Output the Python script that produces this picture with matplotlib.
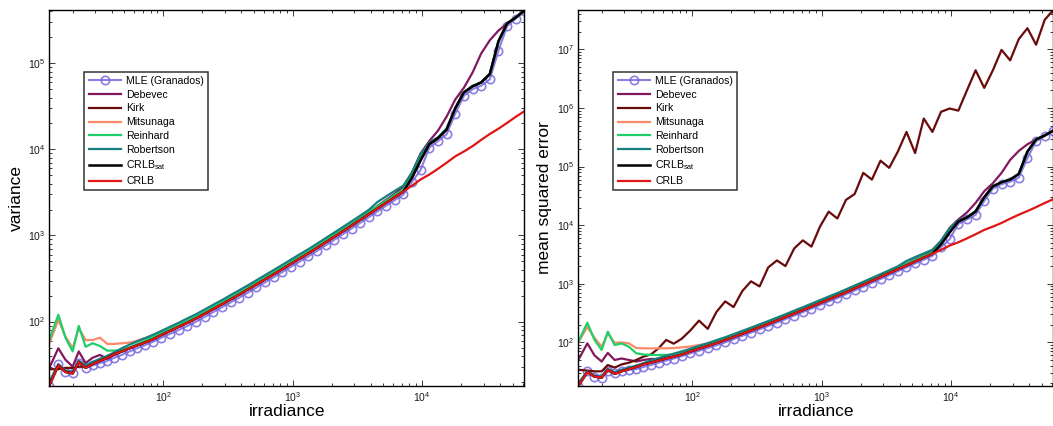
import matplotlib
matplotlib.use("Agg")
import matplotlib.pyplot as plt
from matplotlib.ticker import LogLocator, NullFormatter, FixedLocator

plt.rcParams['font.family'] = ['Liberation Sans', 'DejaVu Sans']
plt.rcParams['mathtext.fontset'] = 'custom'
plt.rcParams['mathtext.rm'] = 'Liberation Sans'
plt.rcParams['mathtext.it'] = 'Liberation Sans:italic'
plt.rcParams['mathtext.bf'] = 'Liberation Sans:bold'

# ---------------- data ----------------
irradiance = [13.2, 15.5, 17.6, 20.0, 22.3, 25.2, 28.5, 32.5, 37, 42, 48, 55, 63, 72, 83,
              97, 113, 132, 154, 180, 209, 244, 285, 332, 387, 452, 526, 614, 716, 835,
              973, 1135, 1324, 1544, 1800, 2099, 2448, 2854, 3329, 3882, 4527, 5279, 6156,
              7179, 8372, 9762, 11384, 13276, 15481, 18053, 21052, 24550, 28628, 33384,
              38930, 45398, 52940, 61660]

labels = ['MLE (Granados)', 'Debevec', 'Kirk', 'Mitsunaga', 'Reinhard', 'Robertson',
          r'CRLB$_{\mathrm{sat}}$', 'CRLB']

x_ticks = [1e2, 1e3, 1e4]
y_ticks_left = [1e2, 1e3, 1e4, 1e5]
y_ticks_right = [1e2, 1e3, 1e4, 1e5, 1e6, 1e7]

# variance (left panel)
var_mle = [18, 32, 26, 25, 33, 29, 31, 33, 35, 38, 41, 45, 49, 53, 58, 65, 72, 80, 89, 100,
           113, 129, 147, 167, 190, 217, 249, 286, 328, 377, 434, 498, 572, 662, 768, 890,
           1035, 1205, 1405, 1635, 1905, 2220, 2580, 3000, 4200, 5800, 10500, 12500, 15000,
           26000, 42000, 50000, 55000, 65000, 140000, 270000, 330000, 410000]
var_debevec = [29, 49, 36, 30, 45, 33, 38, 41, 37, 41, 45, 49, 53, 57, 63, 71, 79, 88, 99, 111,
               125, 142, 162, 184, 210, 240, 275, 316, 362, 416, 480, 552, 635, 735, 855, 995,
               1160, 1360, 1590, 1870, 2200, 2600, 3050, 3700, 5400, 9000, 12500, 16500, 24000,
               38000, 52000, 78000, 130000, 185000, 240000, 290000, 340000, 410000]
var_kirk = [28, 28, 29, 29, 30, 30, 32, 35, 38, 42, 45, 49, 53, 57, 62, 70, 78, 87, 97, 109,
            123, 140, 159, 181, 206, 236, 270, 310, 355, 408, 470, 540, 620, 717, 832, 965,
            1120, 1305, 1520, 1770, 2060, 2400, 2790, 3250, 4700, 7500, 11500, 13500, 17000,
            30000, 46000, 54000, 60000, 75000, 180000, 290000, 340000, 410000]
var_mitsunaga = [56, 105, 67, 49, 84, 61, 61, 65, 55, 55, 56, 57, 60, 64, 66, 73, 80, 89, 99, 111,
                 126, 143, 163, 186, 212, 242, 277, 318, 364, 418, 482, 554, 636, 735, 853, 990,
                 1150, 1340, 1560, 1815, 2110, 2460, 2860, 3300, 4700, 7500, 11500, 13500, 17000,
                 30000, 46000, 54000, 60000, 75000, 180000, 290000, 340000, 410000]
var_reinhard = [61, 120, 65, 45, 89, 51, 56, 52, 46, 46, 47, 50, 55, 60, 66, 74, 83, 92, 103, 116,
                130, 148, 168, 192, 218, 250, 286, 329, 376, 432, 498, 572, 657, 760, 882, 1020,
                1185, 1380, 1610, 1875, 2180, 2540, 2960, 3420, 4900, 8000, 11800, 13600, 17200,
                30000, 46000, 54000, 60000, 75000, 180000, 290000, 340000, 410000]
var_robertson = [20, 32, 27, 26, 35, 31, 34, 37, 40, 44, 49, 54, 59, 64, 70, 78, 87, 97, 109, 122,
                 138, 157, 178, 203, 231, 264, 302, 347, 398, 457, 526, 605, 694, 803, 932, 1080,
                 1255, 1460, 1700, 1985, 2450, 2850, 3300, 3800, 5400, 8800, 12000, 13800, 17500,
                 30000, 46000, 54000, 60000, 75000, 180000, 290000, 340000, 410000]
crlb_sat = [18, 31, 26, 25, 34, 29, 32, 35, 38, 42, 45, 49, 53, 57, 62, 70, 78, 87, 97, 109,
            123, 140, 159, 181, 206, 236, 270, 310, 355, 408, 470, 540, 620, 717, 832, 965,
            1120, 1305, 1520, 1770, 2060, 2400, 2790, 3250, 4700, 7500, 11500, 13500, 17000,
            30000, 46000, 54000, 60000, 75000, 180000, 290000, 340000, 410000]
crlb = [18, 31, 26, 25, 34, 29, 32, 35, 38, 42, 45, 49, 53, 57, 62, 70, 78, 87, 97, 109,
        123, 140, 159, 181, 206, 236, 270, 310, 355, 408, 470, 540, 620, 717, 832, 965,
        1120, 1305, 1520, 1770, 2060, 2400, 2790, 3250, 3790, 4480, 5100, 5950, 7000, 8300,
        9450, 10900, 12900, 15100, 17400, 20300, 23900, 27700]

# mean squared error (right panel)
mse_mle = [18, 32, 26, 25, 32, 30, 33, 34, 35, 38, 41, 45, 49, 53, 58, 65, 72, 80, 89, 100,
           113, 129, 147, 167, 190, 217, 249, 286, 328, 377, 434, 498, 572, 662, 768, 890,
           1035, 1205, 1405, 1635, 1905, 2220, 2580, 3000, 4200, 5800, 10500, 12500, 15000,
           26000, 42000, 50000, 55000, 65000, 140000, 270000, 330000, 410000]
mse_debevec = [50, 96, 60, 47, 66, 50, 53, 50, 47, 50, 52, 52, 54, 58, 63, 71, 79, 88, 99, 111,
               125, 142, 162, 184, 210, 240, 275, 316, 362, 416, 480, 552, 635, 735, 855, 995,
               1160, 1360, 1590, 1870, 2200, 2600, 3050, 3700, 5400, 9000, 12500, 16500, 24000,
               38000, 52000, 78000, 130000, 185000, 240000, 290000, 340000, 410000]
mse_kirk = [34, 33, 32, 32, 41, 37, 42, 45, 50, 57, 62, 79, 110, 95, 115, 160, 235, 170, 330,
            500, 400, 750, 1100, 900, 1900, 2500, 2000, 4000, 5500, 4300, 9500, 17000, 13000,
            27000, 34000, 78000, 60000, 126000, 95000, 180000, 390000, 170000, 660000, 390000,
            860000, 980000, 900000, 2000000, 4400000, 2200000, 4400000, 9800000, 6500000,
            15000000, 23000000, 12000000, 32000000, 47000000]
mse_mitsunaga = [100, 184, 120, 84, 143, 98, 100, 96, 80, 79, 79, 79, 79, 80, 82, 85, 90, 95, 99,
                 111, 126, 143, 163, 186, 212, 242, 277, 318, 364, 418, 482, 554, 636, 735, 853,
                 990, 1150, 1340, 1560, 1815, 2110, 2460, 2860, 3300, 4700, 7500, 11500, 13500,
                 17000, 30000, 46000, 54000, 60000, 75000, 180000, 290000, 340000, 410000]
mse_reinhard = [102, 216, 110, 74, 152, 90, 96, 84, 65, 62, 61, 61, 61, 62, 66, 74, 83, 92, 103,
                116, 130, 148, 168, 192, 218, 250, 286, 329, 376, 432, 498, 572, 657, 760, 882,
                1020, 1185, 1380, 1610, 1875, 2180, 2540, 2960, 3420, 4900, 8000, 11800, 13600,
                17200, 30000, 46000, 54000, 60000, 75000, 180000, 290000, 340000, 410000]
mse_robertson = [20, 32, 27, 26, 35, 31, 34, 37, 40, 44, 49, 54, 59, 64, 70, 78, 87, 97, 109, 122,
                 138, 157, 178, 203, 231, 264, 302, 347, 398, 457, 526, 605, 694, 803, 932, 1080,
                 1255, 1460, 1700, 1985, 2450, 2850, 3300, 3800, 5400, 8800, 12000, 13800, 17500,
                 30000, 46000, 54000, 60000, 75000, 180000, 290000, 340000, 410000]

colors = ['#7868de', '#82195f', '#6a0b0b', '#fb8a6a', '#1fd068', '#17807e', '#000000', '#e01515']

left_series = [var_mle, var_debevec, var_kirk, var_mitsunaga, var_reinhard, var_robertson,
               crlb_sat, crlb]
right_series = [mse_mle, mse_debevec, mse_kirk, mse_mitsunaga, mse_reinhard, mse_robertson,
                crlb_sat, crlb]

# ---------------- figure ----------------
W, H = 1053, 426
fig = plt.figure(figsize=(W / 100, H / 100), dpi=100)

ax_h = 375.7 / H
ax_b = 1 - 385.7 / H
ax_w = 475.0 / W
axL = fig.add_axes([49.3 / W, ax_b, ax_w, ax_h])
axR = fig.add_axes([578.3 / W, ax_b, ax_w, ax_h])


def draw(ax, series, ylim, yticks, ylabel):
    handles = []
    for i, (vals, lab, col) in enumerate(zip(series, labels, colors)):
        if i == 0:
            h, = ax.plot(irradiance, vals, '-', color=col, lw=1.5, marker='o', ms=6.0,
                         mfc='none', mec=col, mew=1.2, label=lab, alpha=0.85)
        else:
            h, = ax.plot(irradiance, vals, '-', color=col, lw=1.6 if i != 6 else 1.8, label=lab)
        handles.append(h)
    ax.set_xscale('log')
    ax.set_yscale('log')
    ax.set_xlim(13.2, 61660)
    ax.set_ylim(*ylim)
    ax.xaxis.set_major_locator(FixedLocator(x_ticks))
    ax.yaxis.set_major_locator(FixedLocator(yticks))
    ax.xaxis.set_minor_locator(LogLocator(base=10, subs=range(2, 10), numticks=12))
    ax.yaxis.set_minor_locator(LogLocator(base=10, subs=range(2, 10), numticks=12))
    ax.xaxis.set_minor_formatter(NullFormatter())
    ax.yaxis.set_minor_formatter(NullFormatter())
    ax.tick_params(which='both', direction='in', top=True, right=True, labelsize=7.5,
                   colors='#1a1a1a', width=0.6)
    ax.tick_params(which='major', length=4.5, pad=3)
    ax.tick_params(which='minor', length=2.2)
    for s in ax.spines.values():
        s.set_linewidth(1.0)
    ax.set_xlabel('irradiance', fontsize=12.5, labelpad=0)
    ax.set_ylabel(ylabel, fontsize=12.5, labelpad=3)
    leg = ax.legend(handles=handles, loc='upper left', bbox_to_anchor=(0.074, 0.836),
                    borderaxespad=0, fontsize=7.6, frameon=True, fancybox=False,
                    edgecolor='black', handlelength=3.1, handletextpad=0.45,
                    labelspacing=0.36, borderpad=0.4, numpoints=1)
    leg.get_frame().set_linewidth(1.1)


draw(axL, left_series, (18, 416000), y_ticks_left, 'variance')
draw(axR, right_series, (18.2, 47000000), y_ticks_right, 'mean squared error')

fig.savefig('out.png', dpi=100)
